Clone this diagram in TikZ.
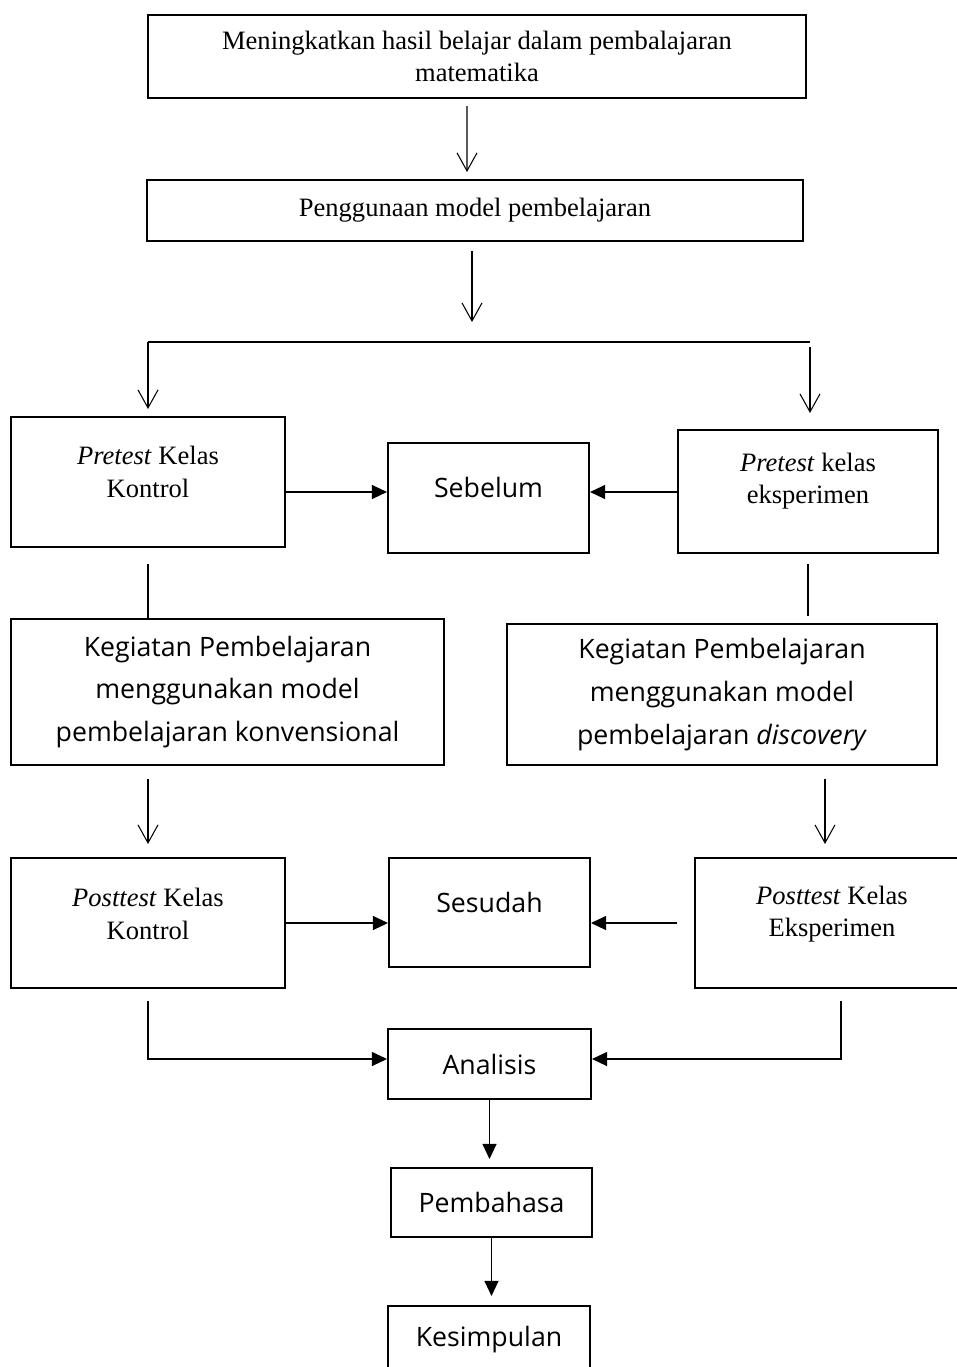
\documentclass[tikz,border=0pt]{standalone}
\usepackage{fontspec}
\usepackage{tikz}
\usetikzlibrary{arrows.meta}
\setmainfont{Liberation Serif}
\newfontfamily\yahei{Open Sans}
\newcommand{\serfont}{\fontsize{15.1pt}{18.4pt}\selectfont}
\newcommand{\sanfont}{\yahei\fontsize{15.2pt}{24.4pt}\selectfont}
\tikzset{
  box/.style={draw, line width=1.2pt, inner sep=0pt},
  sertext/.style={font=\serfont, align=center},
  santext/.style={font=\sanfont, align=center},
  openarr/.style={-{Straight Barb[length=0.36cm,width=0.4cm]}, line width=0.6pt},
  fillarr/.style={-{Triangle[length=0.3cm,width=0.28cm]}, line width=0.6pt},
  plain/.style={line width=0.6pt}
}

\begin{document}
\begin{tikzpicture}[x=0.02cm, y=-0.02cm]
    \useasboundingbox (0,0) rectangle (957,1367);

    % Top boxes
    \node[box, sertext, minimum width=13.16cm, minimum height=1.66cm] (goal) at (477,56.5)
        {Meningkatkan hasil belajar dalam pembalajaran\\matematika};
    \node[box, sertext, minimum width=13.14cm, minimum height=1.22cm] (model) at (475,210.5)
        {Penggunaan model pembelajaran};

    % Split into two classes
    \coordinate (split) at (472,342);
    \coordinate (brL) at (148,342);
    \coordinate (brR) at (810,342);
    \coordinate (preY) at (0,492);
    \coordinate (postY) at (0,923);
    \coordinate (anaY) at (0,1059);

    % Pretest row
    \node[box, minimum width=5.48cm, minimum height=2.6cm] (pre1) at (148,482) {};
    \node[sertext] (pre1t) at (148,472) {\textit{Pretest} Kelas\\Kontrol};
    \node[box, minimum width=4.02cm, minimum height=2.2cm] (sebelum) at (488.5,498) {};
    \node[santext] (sebelumt) at (488.5,487) {Sebelum};
    \node[box, minimum width=5.2cm, minimum height=2.46cm] (pre2) at (808,491.5) {};
    \node[sertext] (pre2t) at (808,481) {\textit{Pretest} kelas\\eksperimen};

    % Learning activities
    \node[box, santext, minimum width=8.66cm, minimum height=2.92cm] (keg1) at (227.5,692)
        {Kegiatan Pembelajaran\\menggunakan model\\pembelajaran konvensional};
    \node[box, santext, minimum width=8.6cm, minimum height=2.82cm] (keg2) at (722,694.5)
        {Kegiatan Pembelajaran\\menggunakan model\\pembelajaran \textit{discovery}};

    % Posttest row
    \node[box, minimum width=5.48cm, minimum height=2.6cm] (post1) at (148,923) {};
    \node[sertext] (post1t) at (148,914) {\textit{Posttest} Kelas\\Kontrol};
    \node[box, minimum width=4.02cm, minimum height=2.18cm] (sesudah) at (489.5,912.5) {};
    \node[santext] (sesudaht) at (489.5,902) {Sesudah};
    \node[box, minimum width=5.46cm, minimum height=2.6cm] (post2) at (831.5,923) {};
    \node[sertext] (post2t) at (832,914) {\textit{Posttest} Kelas\\Eksperimen};

    % Closing steps
    \node[box, santext, minimum width=4.06cm, minimum height=1.4cm] (analisis) at (489.5,1064) {Analisis};
    \node[box, santext, minimum width=4.02cm, minimum height=1.38cm] (pembahasa) at (491.5,1202.5) {Pembahasa};
    \node[box, santext, minimum width=4.04cm, minimum height=1.36cm] (kesimpulan) at (489,1340) {Kesimpulan};

    % Connectors
    \draw[openarr, shorten <=0.14cm, shorten >=0.14cm] ([xshift=-0.2cm]goal.south) -- ([xshift=-0.16cm]model.north);
    \draw[openarr, shorten <=0.18cm, shorten >=0.4cm] (split |- model.south) -- (split);
    \draw[plain] (brL) -- (brR);
    \draw[openarr, shorten >=0.14cm] (brL) -- (brL |- pre1.north);
    \draw[openarr, shorten <=0.1cm, shorten >=0.32cm] (brR) -- (brR |- pre2.north);
    \draw[fillarr] (pre1.east |- preY) -- (sebelum.west |- preY);
    \draw[fillarr] (pre2.west |- preY) -- (sebelum.east |- preY);
    \draw[plain, shorten <=0.32cm] (pre1.south) -- (pre1.south |- keg1.north);
    \draw[plain, shorten <=0.2cm, shorten >=0.14cm] (pre2.south) -- (pre2.south |- keg2.north);
    \draw[openarr, shorten <=0.26cm, shorten >=0.26cm] (keg1.south -| post1.north) -- (post1.north);
    \draw[openarr, shorten <=0.26cm, shorten >=0.26cm] ([xshift=-0.13cm]keg2.south -| post2.north) -- ([xshift=-0.13cm]post2.north);
    \draw[fillarr] (post1.east |- postY) -- (sesudah.west |- postY);
    \draw[fillarr, shorten <=0.34cm] (post2.west |- postY) -- (sesudah.east |- postY);
    \draw[fillarr, shorten <=0.24cm] (post1.south) |- (analisis.west |- anaY);
    \draw[fillarr, shorten <=0.24cm] ([xshift=0.19cm]post2.south) |- (analisis.east |- anaY);
    \draw[fillarr, shorten >=0.16cm] (analisis.south) -- (analisis.south |- pembahasa.north);
    \draw[fillarr, shorten >=0.18cm] (pembahasa.south) -- (pembahasa.south |- kesimpulan.north);
\end{tikzpicture}
\end{document}
